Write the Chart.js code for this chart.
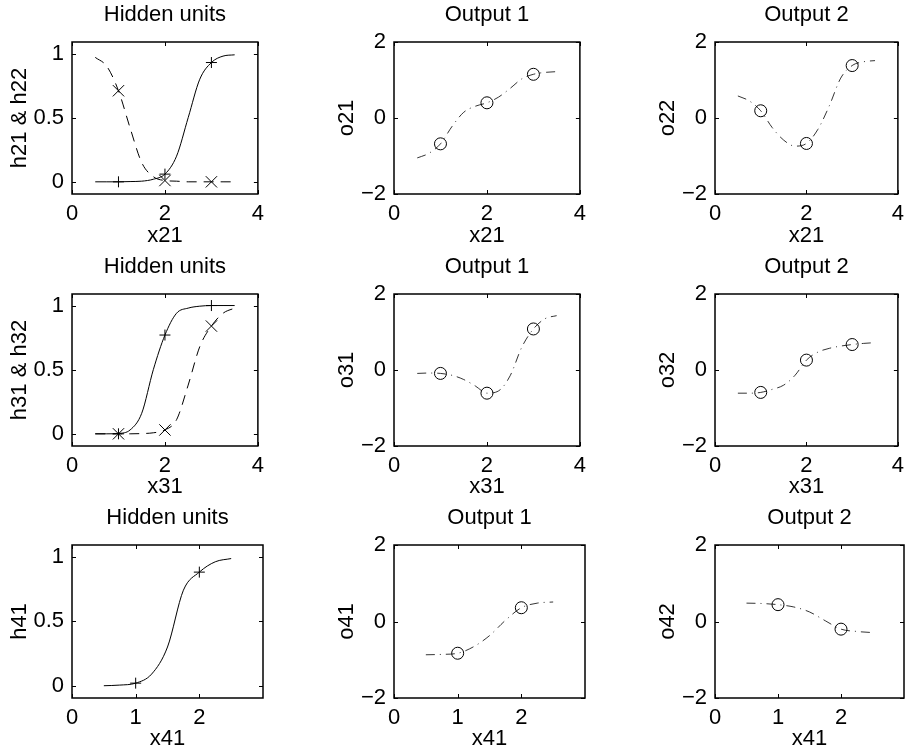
<!DOCTYPE html>
<html>
<head>
<meta charset="utf-8">
<script src="https://cdn.jsdelivr.net/npm/chart.js@4.4.1/dist/chart.umd.min.js"></script>
<style>
  html, body { margin: 0; padding: 0; background: #fff; overflow: hidden; }
  #wrap { position: relative; width: 910px; height: 755px; }
  #wrap canvas { position: absolute; }
</style>
</head>
<body>
<div id="wrap"></div>
<script>
// x positions the curves were read at
const xFull = [0.5, 0.75, 1, 1.25, 1.5, 1.75, 2, 2.25, 2.5, 2.75, 3, 3.25, 3.5];
const xShort = [0.5, 0.75, 1, 1.25, 1.5, 1.75, 2, 2.25, 2.5];
const xMarks3 = [1, 2, 3];
const xMarks2 = [1, 2];

// row 1 (x21)
const h21 = [0, 0, 0, 0.002, 0.005, 0.02, 0.06, 0.2, 0.5, 0.8, 0.93, 0.98, 0.99];
const h22 = [0.97, 0.9, 0.71, 0.42, 0.15, 0.04, 0.01, 0.005, 0, 0, 0, 0, 0];
const h21Marks = [0, 0.06, 0.93];
const h22Marks = [0.71, 0.01, 0];
const o21 = [-1.05, -0.93, -0.68, -0.22, 0.15, 0.31, 0.4, 0.55, 0.78, 1.03, 1.15, 1.2, 1.22];
const o21Marks = [-0.68, 0.4, 1.15];
const o22 = [0.58, 0.45, 0.19, -0.25, -0.58, -0.74, -0.67, -0.3, 0.32, 1.05, 1.38, 1.48, 1.51];
const o22Marks = [0.19, -0.67, 1.38];

// row 2 (x31)
const h31 = [0, 0, 0.003, 0.03, 0.16, 0.5, 0.77, 0.94, 0.98, 0.995, 1, 1, 1];
const h32 = [0, 0, 0, 0, 0.002, 0.008, 0.03, 0.11, 0.38, 0.68, 0.84, 0.94, 0.98];
const h31Marks = [0, 0.77, 1];
const h32Marks = [0, 0.03, 0.84];
const o31 = [-0.09, -0.08, -0.09, -0.14, -0.25, -0.42, -0.61, -0.55, -0.15, 0.6, 1.08, 1.35, 1.43];
const o31Marks = [-0.09, -0.61, 1.08];
const o32 = [-0.61, -0.61, -0.59, -0.51, -0.4, -0.14, 0.26, 0.47, 0.57, 0.63, 0.67, 0.7, 0.72];
const o32Marks = [-0.59, 0.26, 0.67];

// row 3 (x41)
const h41 = [0, 0.005, 0.02, 0.09, 0.3, 0.74, 0.88, 0.96, 0.985];
const h41Marks = [0.02, 0.88];
const o41 = [-0.87, -0.86, -0.83, -0.66, -0.37, 0.03, 0.36, 0.48, 0.51];
const o41Marks = [-0.83, 0.36];
const o42 = [0.48, 0.47, 0.44, 0.38, 0.25, 0.02, -0.2, -0.26, -0.29];
const o42Marks = [0.44, -0.2];

// tick labels
const xTicksWide = [0, 2, 4];
const xTicksShort = [0, 1, 2];
const yTicksHidden = [0, 0.5, 1];
const yTicksOut = [-2, 0, 2];

const FONT = { family: '"Liberation Sans", Arial, Helvetica, sans-serif', size: 22, weight: 'normal' };

// panel geometry
const yAxisW = 72;
const colLeft = [72, 394, 715];
const boxW = [191, 191, 190];
const rightPad = [8, 8, 6];
const rowTop = [0, 252, 503];
const rowH = [252, 251, 252];
const boxH = [152, 152, 153];

function pts(xs, ys) {
  return xs.map((x, i) => ({ x: x, y: ys[i] }));
}

function curve(xs, ys, dash, width) {
  return {
    data: pts(xs, ys), showLine: true, pointRadius: 0, pointHoverRadius: 0,
    borderColor: '#000', borderWidth: width, borderDash: dash,
    cubicInterpolationMode: 'monotone', fill: false
  };
}

function marks(xs, ys, style, r) {
  return {
    data: pts(xs, ys), showLine: false, pointStyle: style,
    pointRadius: r, pointHoverRadius: r, pointBorderColor: '#000',
    pointBorderWidth: 1, pointBackgroundColor: 'rgba(0,0,0,0)'
  };
}

function fmt(v) {
  return v < 0 ? '\u2212' + Math.abs(v) : String(v);
}

// matlab style frame with inward ticks on all four sides
const framePlugin = {
  id: 'frame',
  afterDraw(chart) {
    const { ctx, chartArea: a, scales } = chart;
    const t = 4;
    ctx.save();
    ctx.strokeStyle = '#000';
    ctx.lineWidth = 1;
    ctx.beginPath();
    scales.x.ticks.forEach(tk => {
      const px = Math.round(scales.x.getPixelForValue(tk.value)) + 0.5;
      ctx.moveTo(px, a.bottom); ctx.lineTo(px, a.bottom - t);
      ctx.moveTo(px, a.top); ctx.lineTo(px, a.top + t);
    });
    scales.y.ticks.forEach(tk => {
      const py = Math.round(scales.y.getPixelForValue(tk.value)) + 0.5;
      ctx.moveTo(a.left, py); ctx.lineTo(a.left + t, py);
      ctx.moveTo(a.right, py); ctx.lineTo(a.right - t, py);
    });
    ctx.stroke();
    ctx.lineWidth = 1.5;
    ctx.strokeRect(a.left, a.top, a.right - a.left, a.bottom - a.top);
    ctx.restore();
  }
};

function panel(row, col, spec) {
  const cv = document.createElement('canvas');
  const W = yAxisW + boxW[col] + rightPad[col];
  const H = rowH[row];
  cv.width = W; cv.height = H;
  cv.style.left = (colLeft[col] - yAxisW) + 'px';
  cv.style.top = rowTop[row] + 'px';
  document.getElementById('wrap').appendChild(cv);

  new Chart(cv, {
    type: 'scatter',
    data: { datasets: spec.datasets },
    options: {
      responsive: false, animation: false, devicePixelRatio: 1,
      layout: { padding: { left: 0, top: 0, bottom: 0, right: rightPad[col] } },
      plugins: {
        legend: { display: false },
        tooltip: { enabled: false },
        title: {
          display: true, text: spec.title, font: FONT, color: '#000', fullSize: false,
          padding: { top: 1.8, bottom: 13.8 }
        }
      },
      scales: {
        x: {
          type: 'linear', min: 0, max: spec.xMax,
          grid: { display: false, drawTicks: false }, border: { display: false },
          afterBuildTicks: s => { s.ticks = spec.xTicks.map(v => ({ value: v })); },
          afterFit: s => { s.height = H - 42 - boxH[row]; },
          ticks: { font: FONT, color: '#000', padding: 7, autoSkip: false, maxRotation: 0, callback: v => fmt(v) },
          title: { display: true, text: spec.xLabel, font: FONT, color: '#000', padding: { top: 0, bottom: 2.5 } }
        },
        y: {
          type: 'linear', min: spec.yMin, max: spec.yMax,
          grid: { display: false, drawTicks: false }, border: { display: false },
          afterBuildTicks: s => { s.ticks = spec.yTicks.map(v => ({ value: v })); },
          afterFit: s => { s.width = yAxisW; },
          ticks: { font: FONT, color: '#000', padding: 8, autoSkip: false, callback: v => fmt(v) },
          title: { display: true, text: spec.yLabel, font: FONT, color: '#000', padding: { top: col === 0 ? 6.8 : 11.8, bottom: 0 } }
        }
      }
    },
    plugins: [framePlugin]
  });
}

const dashed = [10, 7];
const dashDot = [9, 5, 1, 5];

function hiddenSpec(title, xLabel, yLabel, xMax, xTicks, datasets) {
  return { title, xLabel, yLabel, xMax, xTicks, yMin: -0.095, yMax: 1.09, yTicks: yTicksHidden, datasets };
}
function outSpec(title, xLabel, yLabel, xMax, xTicks, datasets) {
  return { title, xLabel, yLabel, xMax, xTicks, yMin: -2, yMax: 2, yTicks: yTicksOut, datasets };
}

// row 1
panel(0, 0, hiddenSpec('Hidden units', 'x21', 'h21 & h22', 4, xTicksWide, [
  curve(xFull, h21, [], 1), curve(xFull, h22, dashed, 1),
  marks(xMarks3, h21Marks, 'cross', 5.5), marks(xMarks3, h22Marks, 'crossRot', 8)
]));
panel(0, 1, outSpec('Output 1', 'x21', 'o21', 4, xTicksWide, [
  curve(xFull, o21, dashDot, 0.8), marks(xMarks3, o21Marks, 'circle', 6)
]));
panel(0, 2, outSpec('Output 2', 'x21', 'o22', 4, xTicksWide, [
  curve(xFull, o22, dashDot, 0.8), marks(xMarks3, o22Marks, 'circle', 6)
]));

// row 2
panel(1, 0, hiddenSpec('Hidden units', 'x31', 'h31 & h32', 4, xTicksWide, [
  curve(xFull, h31, [], 1), curve(xFull, h32, dashed, 1),
  marks(xMarks3, h31Marks, 'cross', 5.5), marks(xMarks3, h32Marks, 'crossRot', 8)
]));
panel(1, 1, outSpec('Output 1', 'x31', 'o31', 4, xTicksWide, [
  curve(xFull, o31, dashDot, 0.8), marks(xMarks3, o31Marks, 'circle', 6)
]));
panel(1, 2, outSpec('Output 2', 'x31', 'o32', 4, xTicksWide, [
  curve(xFull, o32, dashDot, 0.8), marks(xMarks3, o32Marks, 'circle', 6)
]));

// row 3
panel(2, 0, hiddenSpec('Hidden units', 'x41', 'h41', 3, xTicksShort, [
  curve(xShort, h41, [], 1), marks(xMarks2, h41Marks, 'cross', 5.5)
]));
panel(2, 1, outSpec('Output 1', 'x41', 'o41', 3, xTicksShort, [
  curve(xShort, o41, dashDot, 0.8), marks(xMarks2, o41Marks, 'circle', 6)
]));
panel(2, 2, outSpec('Output 2', 'x41', 'o42', 3, xTicksShort, [
  curve(xShort, o42, dashDot, 0.8), marks(xMarks2, o42Marks, 'circle', 6)
]));
</script>
</body>
</html>
